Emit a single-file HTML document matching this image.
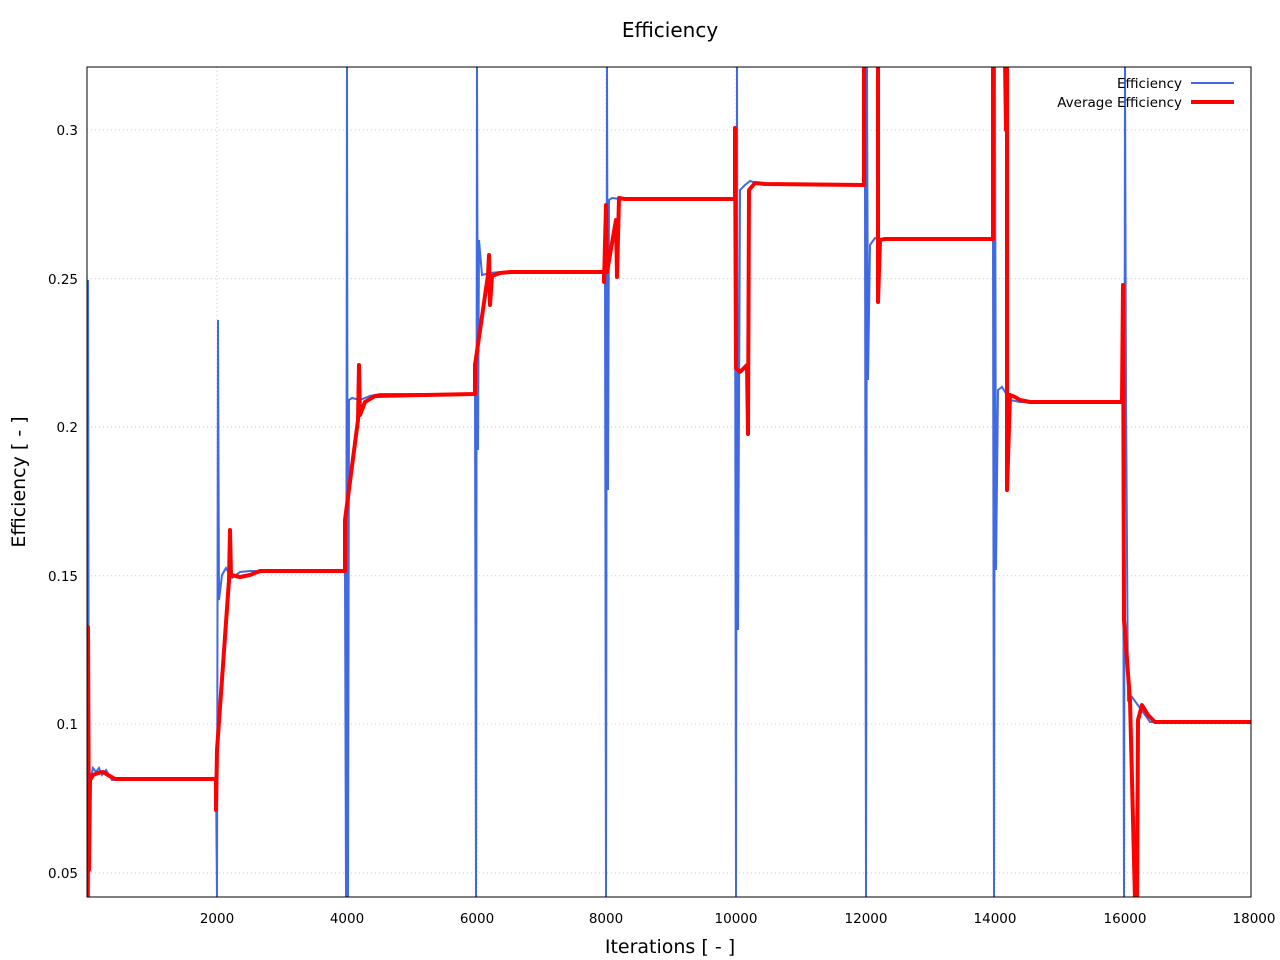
<!DOCTYPE html>
<html><head><meta charset="utf-8"><style>body{margin:0;background:#fff}svg{display:block;font-family:"DejaVu Sans","Liberation Sans",sans-serif}</style></head><body>
<svg width="1280" height="960" xmlns="http://www.w3.org/2000/svg">
<rect width="1280" height="960" fill="#fff"/>
<g stroke="#ccc" stroke-dasharray="1,3" stroke-width="1">
<line x1="87" y1="130" x2="1251" y2="130"/><line x1="87" y1="278.6" x2="1251" y2="278.6"/><line x1="87" y1="427" x2="1251" y2="427"/><line x1="87" y1="575.8" x2="1251" y2="575.8"/><line x1="87" y1="724" x2="1251" y2="724"/><line x1="87" y1="873" x2="1251" y2="873"/>
<line x1="217" y1="67" x2="217" y2="897"/><line x1="347" y1="67" x2="347" y2="897"/><line x1="477" y1="67" x2="477" y2="897"/><line x1="606" y1="67" x2="606" y2="897"/><line x1="736" y1="67" x2="736" y2="897"/><line x1="866" y1="67" x2="866" y2="897"/><line x1="995" y1="67" x2="995" y2="897"/><line x1="1125" y1="67" x2="1125" y2="897"/>
</g>
<g font-size="13.5" fill="#000" text-anchor="end">
<text x="78" y="135">0.3</text><text x="78" y="284">0.25</text><text x="78" y="432">0.2</text><text x="78" y="581">0.15</text><text x="78" y="729">0.1</text><text x="78" y="878">0.05</text>
</g>
<g font-size="13.5" fill="#000" text-anchor="middle">
<text x="217" y="923">2000</text><text x="347" y="923">4000</text><text x="477" y="923">6000</text><text x="606" y="923">8000</text><text x="736" y="923">10000</text><text x="866" y="923">12000</text><text x="995" y="923">14000</text><text x="1125" y="923">16000</text><text x="1254" y="923">18000</text>
</g>
<text x="670" y="37" font-size="20" text-anchor="middle">Efficiency</text>
<text x="670" y="953" font-size="19" text-anchor="middle">Iterations [ - ]</text>
<text x="25" y="482" font-size="19" text-anchor="middle" transform="rotate(-90 25 482)">Efficiency [ - ]</text>
<defs><clipPath id="c"><rect x="87" y="67" width="1164" height="830"/></clipPath></defs>
<g clip-path="url(#c)" fill="none">
<path stroke="#4169e1" stroke-width="2" d="M87,897 L88,280 L89,897 L90,780 L93,768 L96,772 L99,768 L102,775 L106,770 L112,780 L118,779 L216,779 L217,897 L218,320 L219,600 L222,575 L226,568 L232,578 L240,572 L250,571 L345,571 L346,897 L347,67 L348,897 L349,400 L352,398 L360,400 L370,396 L380,394 L475,394 L476,897 L477,67 L478,450 L479,240 L482,275 L490,273 L500,272 L605,272 L606,897 L607,67 L608,490 L609,200 L612,198 L620,199 L735,199 L736,897 L737,67 L738,630 L740,190 L745,185 L750,181 L760,184 L865,185 L866,897 L867,67 L868,380 L870,245 L875,238 L880,240 L993,239 L994,897 L995,67 L996,570 L998,390 L1002,387 L1010,400 L1020,402 L1123,402 L1124,897 L1125,67 L1126,400 L1128,700 L1132,697 L1140,708 L1150,722 L1251,722"/>
<path stroke="#f00" stroke-width="4" stroke-linejoin="round" d="M87,897 L88,627 L89,870 L90,780 L93,775 L98,773 L103,772 L108,775 L115,779 L216,779 L216,810 L217,750 L229,580 L230,530 L231,575 L240,577 L250,575 L260,571 L345,571 L345,520 L358,420 L359,365 L360,415 L365,402 L375,396 L475,394 L475,365 L488,275 L489,255 L490,305 L492,276 L500,273 L510,272 L604,272 L604,282 L606,205 L607,272 L616,220 L617,277 L619,198 L625,199 L735,199 L735,128 L736,368 L740,372 L747,365 L748,434 L749,190 L755,183 L765,184 L864,185 L864,60 M878,60 L878,302 L880,240 L885,239 L993,239 L993,60 M1005,60 L1006,130 L1007,60 L1007,490 L1010,395 L1015,397 L1020,400 L1030,402 L1122,402 L1123,285 L1124,620 L1130,700 L1135,900 M1137,900 L1138,720 L1142,705 L1148,715 L1155,722 L1251,722"/>
</g>
<rect x="87" y="67" width="1164" height="830" fill="none" stroke="#000" stroke-width="1"/>
<g font-size="13.5" text-anchor="end">
<text x="1182" y="88">Efficiency</text><text x="1182" y="107">Average Efficiency</text>
</g>
<line x1="1191" y1="83" x2="1234" y2="83" stroke="#4169e1" stroke-width="2"/>
<line x1="1191" y1="102" x2="1234" y2="102" stroke="#f00" stroke-width="4"/>
</svg>
</body></html>
